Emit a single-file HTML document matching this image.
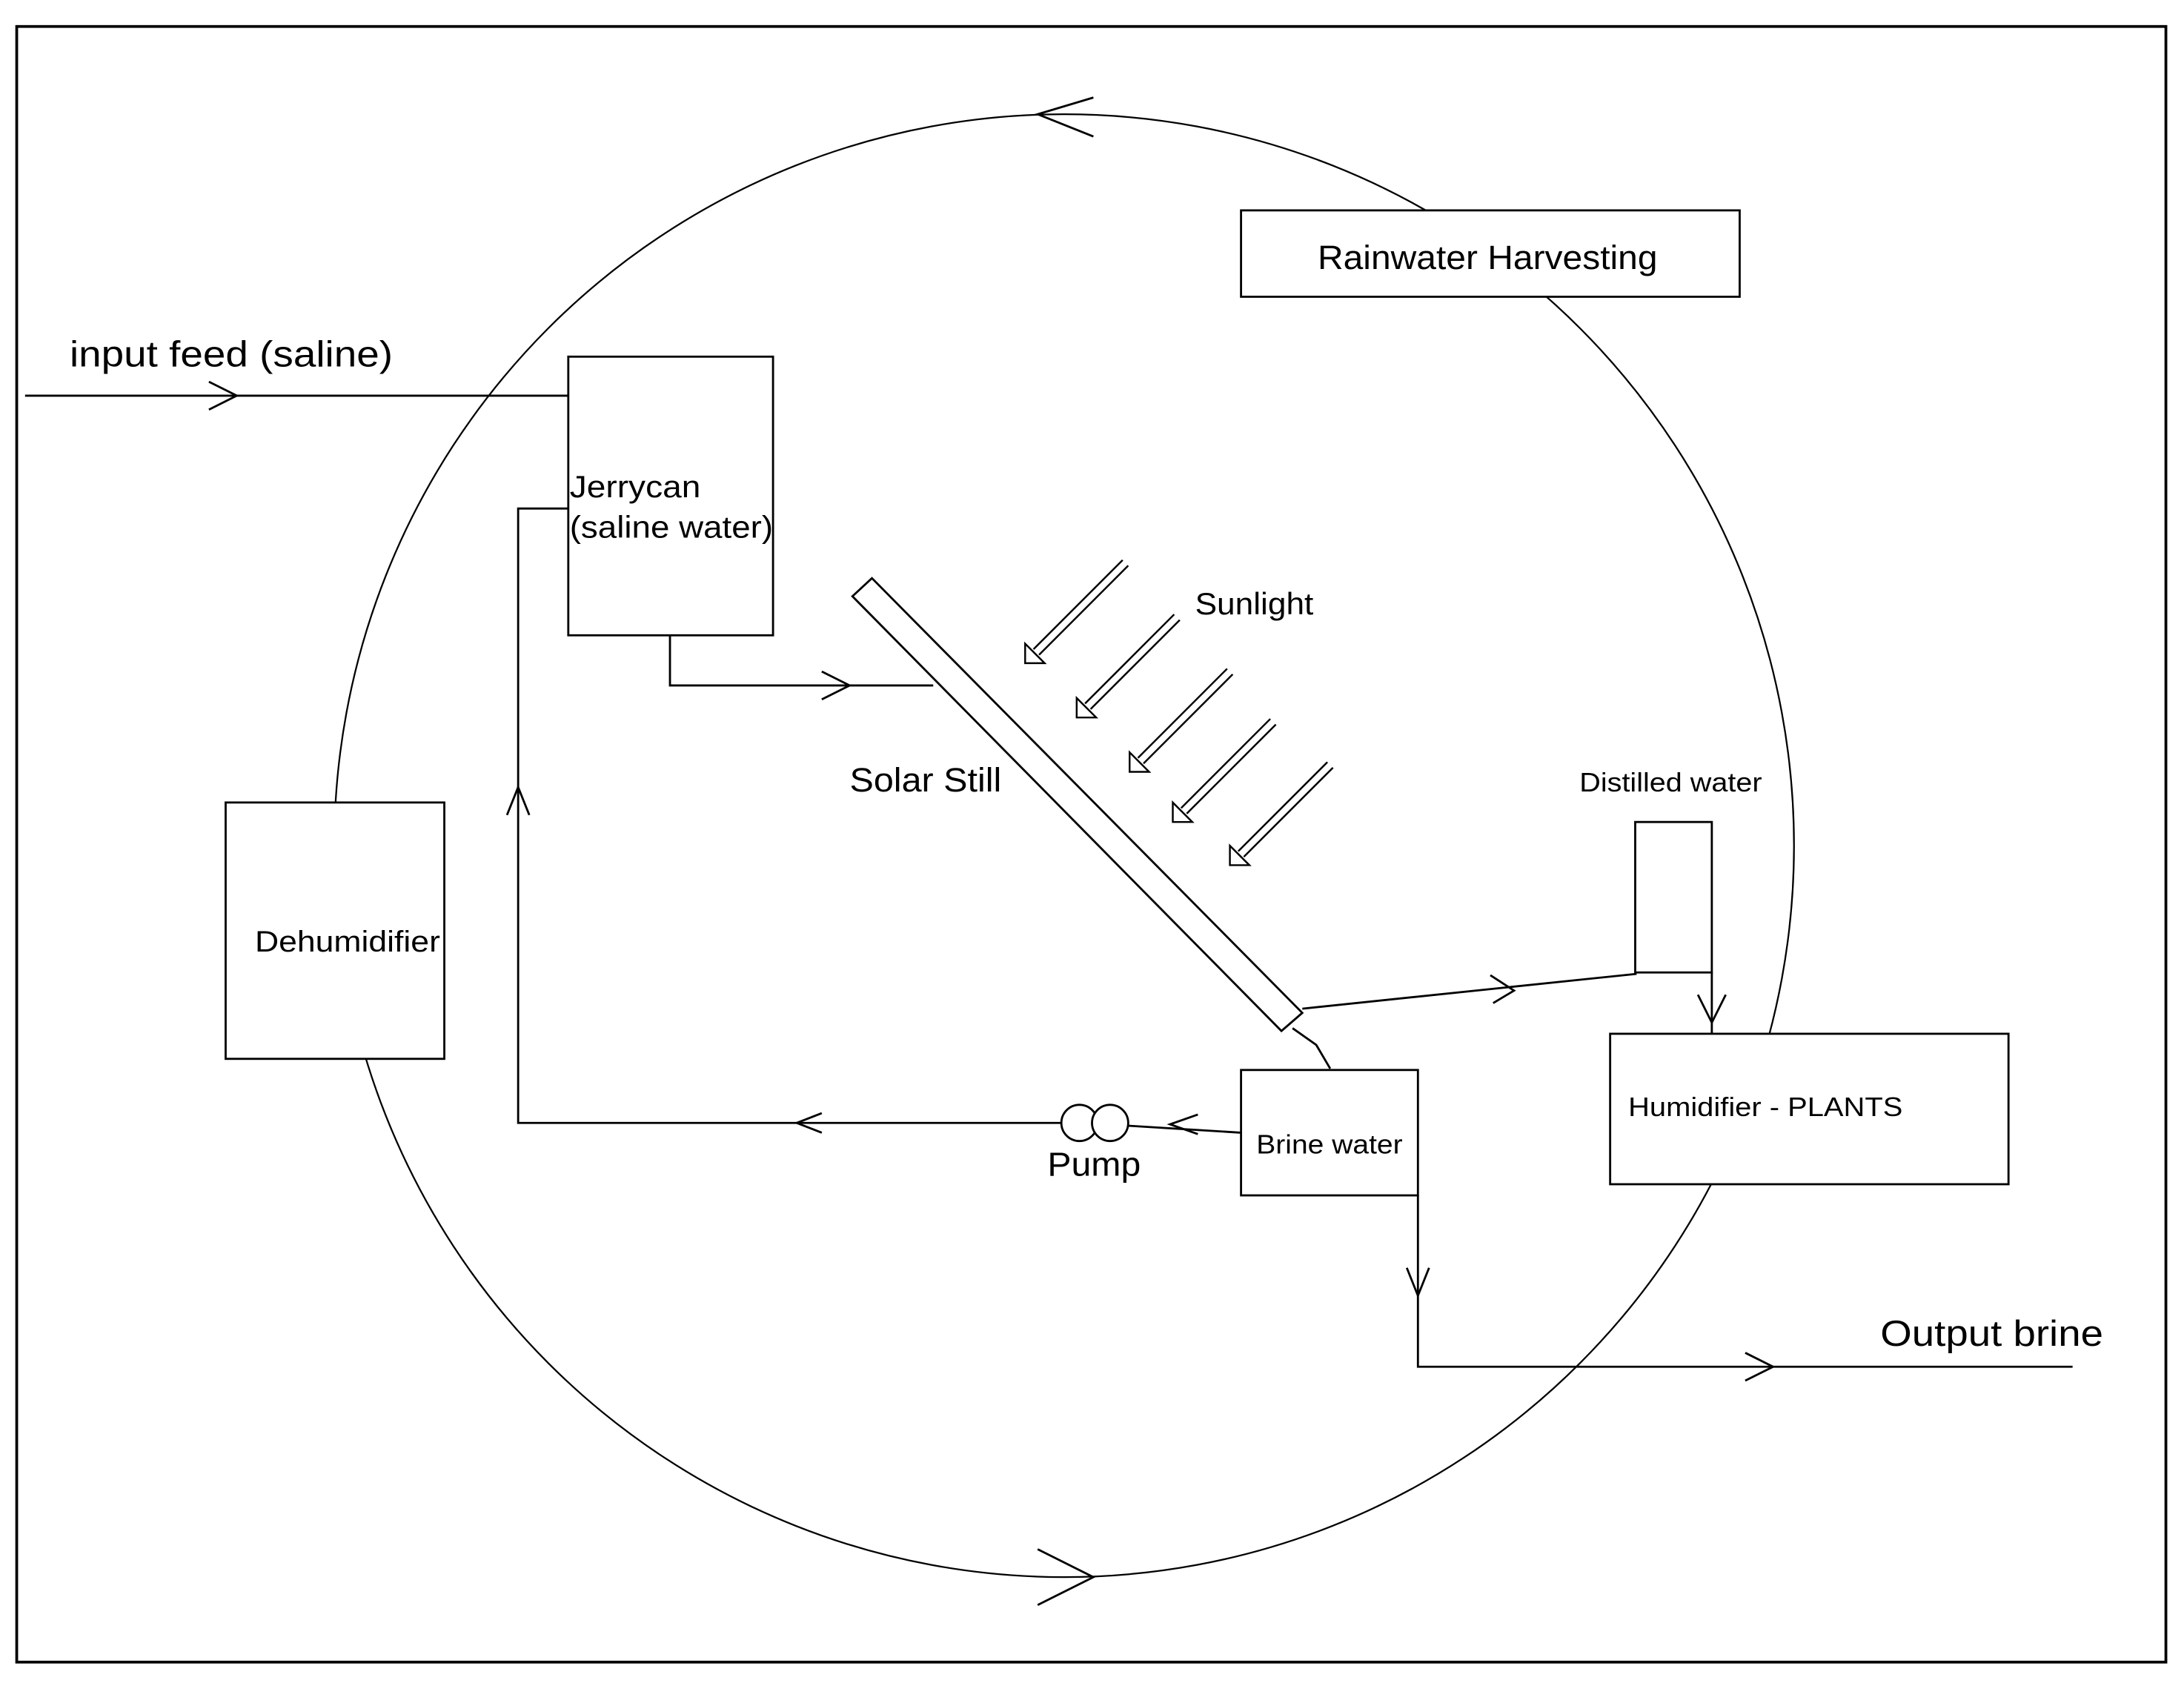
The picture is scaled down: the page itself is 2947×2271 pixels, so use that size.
<!DOCTYPE html>
<html><head><style>html,body{margin:0;padding:0;background:#fff}svg{display:block}text{font-family:"Liberation Sans",sans-serif;fill:#000}</style></head>
<body>
<svg width="2947" height="2271" viewBox="0 0 1568 1208" preserveAspectRatio="none" xmlns="http://www.w3.org/2000/svg">
<g fill="none" stroke="#000" stroke-width="1.5">
<rect x="12" y="19" width="1543" height="1174" stroke-width="2"/>
<ellipse cx="764" cy="607" rx="524" ry="525" stroke-width="1.2"/>
<polyline points="785,70 745,82 785,98"/>
<polyline points="745,1112 785,1132 745,1152"/>
</g>
<g fill="#fff" stroke="#000" stroke-width="1.5">
<rect x="891" y="151" width="358" height="62"/>
<rect x="408" y="256" width="147" height="200"/>
<rect x="162" y="576" width="157" height="184"/>
<rect x="1156" y="742" width="286" height="108"/>
<rect x="891" y="768" width="127" height="90"/>
<rect x="1174" y="590" width="55" height="108"/>
<polygon points="612,428 626,415 935,727 920,740"/>
</g>
<g fill="none" stroke="#000" stroke-width="1.5">
<line x1="18" y1="284" x2="408" y2="284"/>
<polyline points="150,274 170,284 150,294"/>
<polyline points="481,456 481,492 670,492"/>
<polyline points="590,482 610,492 590,502"/>
<polyline points="935,724 1175,699"/>
<polyline points="1070,700 1087,711 1072,720"/>
<line x1="1229" y1="698" x2="1229" y2="742"/>
<polyline points="1219,714 1229,734 1239,714"/>
<polyline points="928,738 945,750 955,767"/>
<line x1="891" y1="813" x2="810" y2="808"/>
<polyline points="860,800 840,807 860,814"/>
<circle cx="775" cy="806" r="13" fill="#fff"/>
<circle cx="797" cy="806" r="13" fill="#fff"/>
<polyline points="762,806 372,806 372,365 408,365"/>
<polyline points="590,799 572,806 590,813"/>
<polyline points="364,585 372,565 380,585"/>
<polyline points="1018,858 1018,981 1488,981"/>
<polyline points="1010,910 1018,930 1026,910"/>
<polyline points="1253,971 1273,981 1253,991"/>
</g>
<g fill="#fff" stroke="#000" stroke-width="1.3">
<g id="a"><line x1="806" y1="402" x2="742" y2="466"/><line x1="810" y1="406" x2="746" y2="470"/><polygon points="736,476 736,462 750,476"/></g>
<use href="#a" transform="translate(37,39)"/>
<use href="#a" transform="translate(75,78)"/>
<use href="#a" transform="translate(106,114)"/>
<use href="#a" transform="translate(147,145)"/>
</g>
<g lengthAdjust="spacingAndGlyphs">
<text x="946" y="193" font-size="24" textLength="244" lengthAdjust="spacingAndGlyphs">Rainwater Harvesting</text>
<text x="50" y="263" font-size="26" textLength="232" lengthAdjust="spacingAndGlyphs">input feed (saline)</text>
<text x="409" y="357" font-size="22" textLength="94" lengthAdjust="spacingAndGlyphs">Jerrycan</text>
<text x="409" y="386" font-size="22" textLength="146" lengthAdjust="spacingAndGlyphs">(saline water)</text>
<text x="858" y="441" font-size="22" textLength="85" lengthAdjust="spacingAndGlyphs">Sunlight</text>
<text x="610" y="568" font-size="24" textLength="109" lengthAdjust="spacingAndGlyphs">Solar Still</text>
<text x="1134" y="568" font-size="19" textLength="131" lengthAdjust="spacingAndGlyphs">Distilled water</text>
<text x="183" y="683" font-size="21" textLength="133" lengthAdjust="spacingAndGlyphs">Dehumidifier</text>
<text x="1169" y="801" font-size="19" textLength="197" lengthAdjust="spacingAndGlyphs">Humidifier - PLANTS</text>
<text x="902" y="828" font-size="19" textLength="105" lengthAdjust="spacingAndGlyphs">Brine water</text>
<text x="752" y="844" font-size="24" textLength="67" lengthAdjust="spacingAndGlyphs">Pump</text>
<text x="1350" y="966" font-size="26" textLength="160" lengthAdjust="spacingAndGlyphs">Output brine</text>
</g>
</svg>
</body></html>
